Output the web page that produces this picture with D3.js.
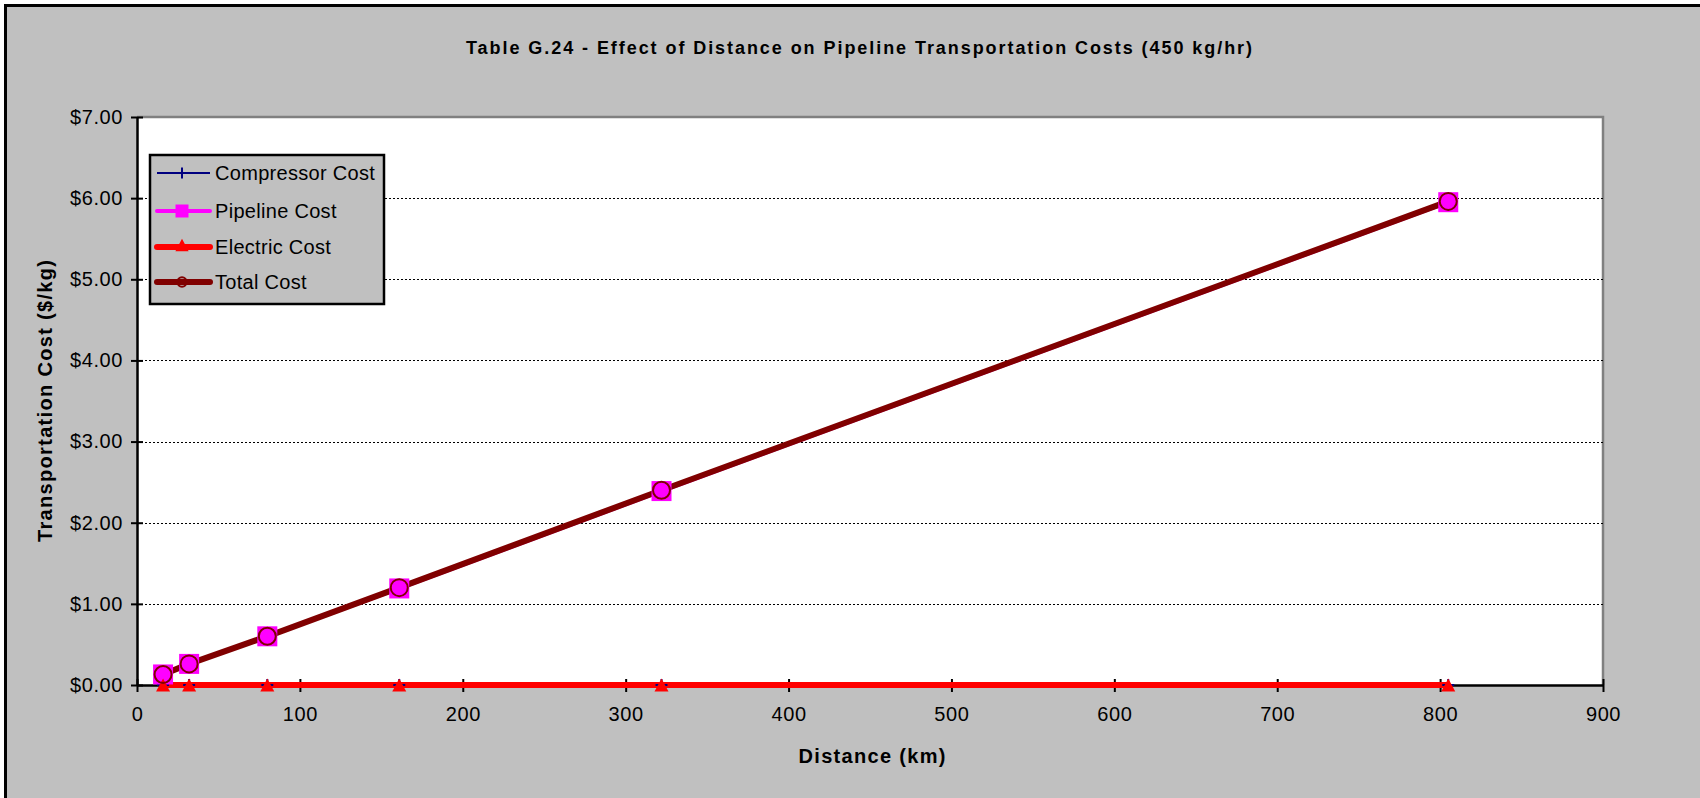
<!DOCTYPE html>
<html>
<head>
<meta charset="utf-8">
<script src="https://cdn.jsdelivr.net/npm/d3@7"></script>
<style>
  html, body { margin: 0; padding: 0; background: #ffffff; }
  svg { display: block; }
  text { font-family: Arial, "Liberation Sans", sans-serif; fill: #000; }
</style>
</head>
<body>
<svg id="chart" width="1700" height="798"></svg>
<script>
// ---- data ----
const distances      = [16, 32, 80, 161, 322, 805];
const compressorCost = [0.00, 0.00, 0.00, 0.00, 0.00, 0.00];
const pipelineCost   = [0.13, 0.26, 0.60, 1.19, 2.39, 5.95];
const electricCost   = [0.00, 0.00, 0.00, 0.00, 0.00, 0.00];
const totalCost      = [0.13, 0.26, 0.60, 1.20, 2.40, 5.96];
const xTicks = [0, 100, 200, 300, 400, 500, 600, 700, 800, 900];
const yTicks = [0, 1, 2, 3, 4, 5, 6, 7];
const seriesNames = ["Compressor Cost", "Pipeline Cost", "Electric Cost", "Total Cost"];
const titleText = "Table G.24 - Effect of Distance on Pipeline Transportation Costs (450 kg/hr)";
const xTitle = "Distance (km)";
const yTitle = "Transportation Cost ($/kg)";

const svg = d3.select("#chart");
const W = 1700, H = 798;
const plot = {left: 137, right: 1603, top: 117, bottom: 685};

// chart background with outer border (left/top visible)
svg.append("rect").attr("x", 5.5).attr("y", 5.5).attr("width", W + 20).attr("height", H + 20)
  .attr("fill", "#c0c0c0").attr("stroke", "#000").attr("stroke-width", 3);

const x = d3.scaleLinear().domain([0, 900]).range([plot.left, plot.right]);
const y = d3.scaleLinear().domain([0, 7]).range([plot.bottom, plot.top]);

// plot area
svg.append("rect").attr("x", plot.left).attr("y", plot.top)
  .attr("width", plot.right - plot.left).attr("height", plot.bottom - plot.top)
  .attr("fill", "#fff");
// gray border top/right
svg.append("path")
  .attr("d", `M${plot.left},${plot.top}H${plot.right}V${plot.bottom}`)
  .attr("fill", "none").attr("stroke", "#808080").attr("stroke-width", 2.5);

// gridlines
svg.append("g").selectAll("line").data(yTicks.filter(d => d > 0 && d < 7)).join("line")
  .attr("x1", plot.left).attr("x2", plot.right)
  .attr("y1", d => Math.round(y(d)) + 0.5).attr("y2", d => Math.round(y(d)) + 0.5)
  .attr("stroke", "#000").attr("stroke-width", 1).attr("stroke-dasharray", "2,2");

// axes
const fmt = d => "$" + d3.format(".2f")(d);
const yAxis = svg.append("g").attr("transform", `translate(${plot.left},0)`)
  .call(d3.axisLeft(y).tickValues(yTicks).tickFormat(fmt).tickSizeInner(6).tickSizeOuter(0).tickPadding(8));
yAxis.select(".domain").attr("stroke", "#000").attr("stroke-width", 2.5);
yAxis.selectAll(".tick line").attr("x2", 6).attr("x1", -6).attr("stroke-width", 2);
yAxis.selectAll(".tick text").attr("x", -14).attr("font-size", 20).attr("letter-spacing", 0.6)
  .style("font-family", "Arial, 'Liberation Sans', sans-serif");

const xAxis = svg.append("g").attr("transform", `translate(0,${plot.bottom})`)
  .call(d3.axisBottom(x).tickValues(xTicks).tickFormat(d3.format("d")).tickSizeInner(6).tickSizeOuter(0).tickPadding(8));
xAxis.select(".domain").attr("stroke", "#000").attr("stroke-width", 2.5);
xAxis.selectAll(".tick line").attr("y1", -6).attr("y2", 7).attr("stroke-width", 2);
xAxis.selectAll(".tick text").attr("y", 22).attr("font-size", 20).attr("letter-spacing", 0.6)
  .style("font-family", "Arial, 'Liberation Sans', sans-serif");

// titles
svg.append("text").attr("x", 859).attr("y", 54).attr("text-anchor", "middle")
  .attr("font-size", 18).attr("font-weight", "bold")
  .attr("textLength", 786).attr("lengthAdjust", "spacing").text(titleText);
svg.append("text").attr("x", 872).attr("y", 763).attr("text-anchor", "middle")
  .attr("font-size", 20).attr("font-weight", "bold")
  .attr("textLength", 147).attr("lengthAdjust", "spacing").text(xTitle);
svg.append("text").attr("transform", `translate(52,${(plot.top + plot.bottom) / 2}) rotate(-90)`)
  .attr("text-anchor", "middle").attr("font-size", 20).attr("font-weight", "bold")
  .attr("textLength", 282).attr("lengthAdjust", "spacing").text(yTitle);

// series
const series = [
  {name: seriesNames[0], values: compressorCost, color: "#000080", width: 2, marker: "plus"},
  {name: seriesNames[1], values: pipelineCost, color: "#ff00ff", width: 4, marker: "square"},
  {name: seriesNames[2], values: electricCost, color: "#ff0000", width: 6, marker: "triangle"},
  {name: seriesNames[3], values: totalCost, color: "#800000", width: 6, marker: "circle"}
];
const line = d3.line().x(d => x(d[0])).y(d => y(d[1]));
const gLines = svg.append("g");
series.forEach(s => {
  gLines.append("path").datum(distances.map((d, i) => [d, s.values[i]]))
    .attr("d", line).attr("fill", "none").attr("stroke", s.color).attr("stroke-width", s.width)
    .attr("stroke-linejoin", "round");
});

function drawMarker(g, type, cx, cy, scale, color) {
  if (type === "plus") {
    g.append("line").attr("x1", cx).attr("x2", cx).attr("y1", cy - 6 * scale).attr("y2", cy + 6 * scale)
      .attr("stroke", color).attr("stroke-width", 2);
    g.append("line").attr("x1", cx - 6 * scale).attr("x2", cx + 6 * scale).attr("y1", cy).attr("y2", cy)
      .attr("stroke", color).attr("stroke-width", 2);
  } else if (type === "square") {
    const s = 20 * scale;
    g.append("rect").attr("x", cx - s / 2).attr("y", cy - s / 2).attr("width", s).attr("height", s)
      .attr("fill", color);
  } else if (type === "triangle") {
    const w = 14 * scale, h = 13 * scale;
    g.append("path").attr("d", `M${cx},${cy - h / 2}L${cx + w / 2},${cy + h / 2}L${cx - w / 2},${cy + h / 2}Z`)
      .attr("fill", color);
  } else if (type === "circle") {
    g.append("circle").attr("cx", cx).attr("cy", cy).attr("r", 8.5 * scale)
      .attr("fill", "none").attr("stroke", color).attr("stroke-width", 2);
  }
}
const gMarkers = svg.append("g");
series.forEach(s => {
  distances.forEach((d, i) => drawMarker(gMarkers, s.marker, x(d), y(s.values[i]), 1, s.color));
});

// legend
const lg = svg.append("g");
lg.append("rect").attr("x", 150).attr("y", 155).attr("width", 234).attr("height", 149)
  .attr("fill", "#c0c0c0").attr("stroke", "#000").attr("stroke-width", 2.5);
const legendY = [173, 211, 247, 282];
const legendScale = {plus: 0.9, square: 0.65, triangle: 0.95, circle: 0.55};
series.forEach((s, i) => {
  const ly = legendY[i];
  lg.append("line").attr("x1", 157).attr("x2", 210).attr("y1", ly).attr("y2", ly)
    .attr("stroke", s.color).attr("stroke-width", s.width).attr("stroke-linecap", s.width > 3 ? "round" : "butt");
  drawMarker(lg, s.marker, 182, s.marker === "triangle" ? ly - 2 : ly, legendScale[s.marker], s.color);
  lg.append("text").attr("x", 215).attr("y", ly + 7).attr("font-size", 20)
    .attr("letter-spacing", 0.3).text(s.name);
});
</script>
</body>
</html>
